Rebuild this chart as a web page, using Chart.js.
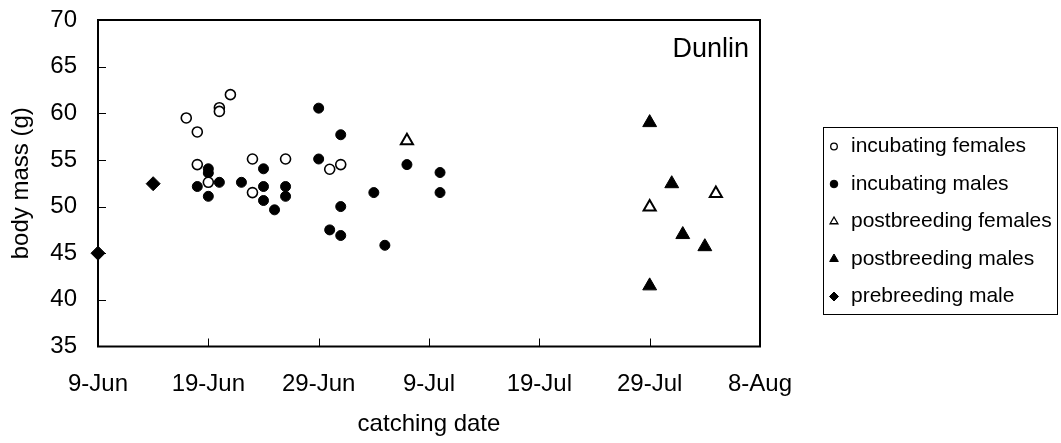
<!DOCTYPE html>
<html><head><meta charset="utf-8">
<script src="https://cdn.jsdelivr.net/npm/chart.js@4.4.1/dist/chart.umd.min.js"></script>
<style>html,body{margin:0;padding:0;background:#fff;}#wrap{width:1061px;height:443px;}</style>
</head><body><div id="wrap"><canvas id="c" width="1061" height="443"></canvas></div>
<script>
// x values are days after 9-Jun
const xTickLabels = ['9-Jun','19-Jun','29-Jun','9-Jul','19-Jul','29-Jul','8-Aug'];
const yTicks = [35,40,45,50,55,60,65,70];

const incFemDays = [8, 9, 11, 11, 12, 9, 10, 14, 14, 17, 21, 22];
const incFemMass = [59.5, 58.0, 60.6, 60.2, 62.0, 54.5, 52.6, 55.1, 51.5, 55.1, 54.0, 54.5];

const incMaleDays = [9, 10, 10, 10, 11, 13, 15, 15, 15, 16, 17, 17, 20, 20, 22, 22, 21, 22, 25, 26, 28, 31, 31];
const incMaleMass = [52.15, 54.05, 53.6, 51.1, 52.6, 52.6, 54.05, 52.15, 50.65, 49.65, 52.15, 51.1, 60.55, 55.1, 57.7, 50.0, 47.5, 46.9, 51.5, 45.85, 54.5, 53.65, 51.5];

const postFemDays = [28, 56, 50];
const postFemMass = [57.05, 51.4, 49.95];

const postMaleDays = [50, 52, 53, 55, 50];
const postMaleMass = [59.0, 52.45, 47.0, 45.7, 41.5];

const preMaleDays = [5, 0];
const preMaleMass = [52.45, 45.0];

const seriesNames = ['incubating females','incubating males','postbreeding females','postbreeding males','prebreeding male'];

function pts(xs, ys){ return xs.map((x,i)=>({x:x, y:ys[i]})); }

const FONT = "'Liberation Sans', Arial, sans-serif";

const datasets = [
  {label: seriesNames[0], data: pts(incFemDays, incFemMass), pointStyle:'circle', pointRadius:5, pointBackgroundColor:'#fff', pointBorderColor:'#000', pointBorderWidth:1.6, legendRadius:3.3},
  {label: seriesNames[1], data: pts(incMaleDays, incMaleMass), pointStyle:'circle', pointRadius:5, pointBackgroundColor:'#000', pointBorderColor:'#000', pointBorderWidth:1, legendRadius:3.8},
  {label: seriesNames[2], data: pts(postFemDays, postFemMass), pointStyle:'triangle', pointRadius:7, pointBackgroundColor:'#fff', pointBorderColor:'#000', pointBorderWidth:2, legendRadius:4.5},
  {label: seriesNames[3], data: pts(postMaleDays, postMaleMass), pointStyle:'triangle', pointRadius:8, pointBackgroundColor:'#000', pointBorderColor:'#000', pointBorderWidth:1, legendRadius:5},
  {label: seriesNames[4], data: pts(preMaleDays, preMaleMass), pointStyle:'rectRot', pointRadius:7, pointBackgroundColor:'#000', pointBorderColor:'#000', pointBorderWidth:1, legendRadius:4.5}
].map(d => Object.assign(d, {showLine:false, clip:false, pointHoverRadius:d.pointRadius}));

const framePlugin = {
  id:'frame',
  beforeDatasetsDraw(chart){
    const {ctx, chartArea:a, scales} = chart;
    ctx.save();
    ctx.strokeStyle = '#000';
    ctx.lineWidth = 1;
    // inward tick marks
    yTicks.forEach(v => {
      if (v === yTicks[0] || v === yTicks[yTicks.length-1]) return;
      const y = Math.round(scales.y.getPixelForValue(v)) + 0.5;
      ctx.beginPath(); ctx.moveTo(a.left, y); ctx.lineTo(a.left + 8, y); ctx.stroke();
    });
    xTickLabels.forEach((l, i) => {
      if (i === 0 || i === xTickLabels.length-1) return;
      const x = Math.round(scales.x.getPixelForValue(i*10)) + 0.5;
      ctx.beginPath(); ctx.moveTo(x, a.bottom); ctx.lineTo(x, a.bottom - 8); ctx.stroke();
    });
    ctx.lineWidth = 2;
    ctx.strokeRect(a.left, a.top, a.right - a.left, a.bottom - a.top);
    // title text
    ctx.fillStyle = '#000';
    ctx.font = "27px " + FONT;
    ctx.textAlign = 'right';
    ctx.textBaseline = 'alphabetic';
    ctx.fillText('Dunlin', a.right - 11, a.top + 37);
    ctx.restore();
  }
};

function drawMarker(ctx, style, r, x, y, fill, stroke, bw){
  ctx.fillStyle = fill; ctx.strokeStyle = stroke; ctx.lineWidth = bw;
  if (Chart.helpers && Chart.helpers.drawPoint) {
    Chart.helpers.drawPoint(ctx, {pointStyle:style, radius:r, rotation:0, borderWidth:bw}, x, y);
  } else {
    ctx.beginPath(); ctx.arc(x, y, r, 0, Math.PI*2); ctx.fill(); ctx.stroke();
  }
}

const legendPlugin = {
  id:'boxLegend',
  afterDraw(chart){
    const {ctx, chartArea:a} = chart;
    const left = a.right + 63, top = 127.5, w = 234, h = 187;
    ctx.save();
    ctx.strokeStyle = '#000'; ctx.lineWidth = 1;
    ctx.strokeRect(Math.round(left)+0.5, top, w, h);
    ctx.font = "21px " + FONT;
    ctx.textAlign = 'left'; ctx.textBaseline = 'middle';
    chart.data.datasets.forEach((d, i) => {
      const y = top + 19 + i * 37.5;
      drawMarker(ctx, d.pointStyle, d.legendRadius, left + 11, y, d.pointBackgroundColor, d.pointBorderColor, Math.min(d.pointBorderWidth, 1.3));
      ctx.fillStyle = '#000';
      ctx.fillText(d.label, left + 28, y);
    });
    ctx.restore();
  }
};

new Chart(document.getElementById('c'), {
  type: 'scatter',
  data: { datasets },
  options: {
    responsive: false,
    animation: false,
    events: [],
    layout: { padding: { left: 0, top: 20, right: 301, bottom: 0 } },
    plugins: { legend: { display: false }, tooltip: { enabled: false } },
    scales: {
      x: {
        type: 'linear', min: 0, max: 60,
        afterFit(s){ s.height = 96.5; s.paddingLeft = 0; s.paddingRight = 0; },
        ticks: { stepSize: 10, padding: 23, color: '#000', font: { family: FONT, size: 24 },
                 callback: (v) => xTickLabels[Math.round(v/10)] },
        grid: { display: false, drawTicks: false },
        border: { display: false },
        title: { display: true, text: 'catching date', color: '#000', font: { family: FONT, size: 24 }, padding: { top: 0, bottom: 4 } }
      },
      y: {
        min: 35, max: 70,
        afterFit(s){ s.width = 98; s.paddingTop = 0; s.paddingBottom = 0; },
        ticks: { stepSize: 5, padding: 21, color: '#000', font: { family: FONT, size: 24 } },
        grid: { display: false, drawTicks: false },
        border: { display: false },
        title: { display: true, text: 'body mass (g)', color: '#000', font: { family: FONT, size: 24 }, padding: { top: 7, bottom: 0 } }
      }
    }
  },
  plugins: [framePlugin, legendPlugin]
});
</script></body></html>
